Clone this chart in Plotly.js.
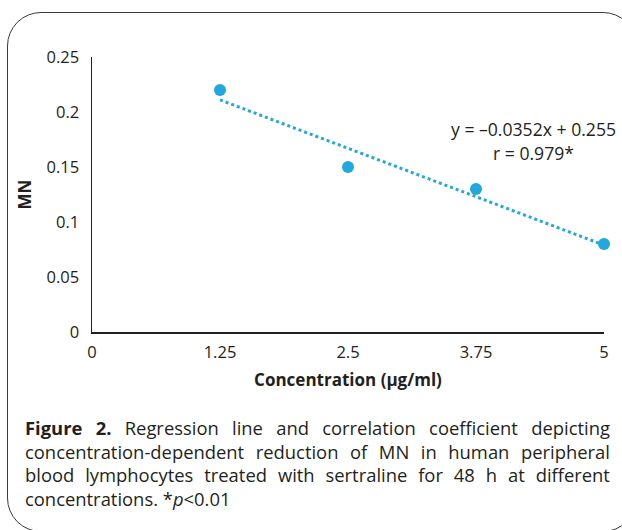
<!DOCTYPE html>
<html>
<head>
<meta charset="utf-8">
<script src="https://cdn.plot.ly/plotly-3.0.1.min.js"></script>
<style>
  html, body { margin: 0; padding: 0; width: 622px; height: 530px; overflow: hidden; background: #fff; }
  #frame { position: absolute; left: 7px; top: 12px; width: 630px; height: 520px;
           border: 1.5px solid #3a3a3a; border-radius: 34px; box-sizing: border-box; }
  #chart { position: absolute; left: 0; top: 0; width: 622px; height: 530px; }
  #caption { position: absolute; left: 25px; top: 416px; width: 585px;
             font-family: "Open Sans", "Noto Sans", sans-serif; font-size: 18.4px; line-height: 23.7px; color: #231f20; }
  #caption .ln { white-space: nowrap; display: flex; justify-content: space-between; }
  #caption .last { text-align: left; white-space: nowrap; }
</style>
</head>
<body>
<div id="frame"></div>
<div id="chart"></div>
<div id="caption">
  <div class="ln"><span><b>Figure</b></span><span><b>2.</b></span><span>Regression</span><span>line</span><span>and</span><span>correlation</span><span>coefficient</span><span>depicting</span></div>
  <div class="ln"><span>concentration-dependent</span><span>reduction</span><span>of</span><span>MN</span><span>in</span><span>human</span><span>peripheral</span></div>
  <div class="ln"><span>blood</span><span>lymphocytes</span><span>treated</span><span>with</span><span>sertraline</span><span>for</span><span>48</span><span>h</span><span>at</span><span>different</span></div>
  <div class="last">concentrations. *<i>p</i>&lt;0.01</div>
</div>
<script>
// Data
const concentrations = [1.25, 2.5, 3.75, 5];
const mnValues = [0.22, 0.15, 0.13, 0.08];
const xTickVals = [0, 1.25, 2.5, 3.75, 5];
const xTickText = ["0", "1.25", "2.5", "3.75", "5"];
const yTickVals = [0, 0.05, 0.1, 0.15, 0.2, 0.25];
const yTickText = ["0", "0.05", "0.1", "0.15", "0.2", "0.25"];
const equationText = "y = \u20130.0352x + 0.255";
const rText = "r = 0.979*";

// Least-squares fit from the data
const n = concentrations.length;
const mx = concentrations.reduce((a, b) => a + b, 0) / n;
const my = mnValues.reduce((a, b) => a + b, 0) / n;
let sxy = 0, sxx = 0;
for (let i = 0; i < n; i++) { sxy += (concentrations[i] - mx) * (mnValues[i] - my); sxx += (concentrations[i] - mx) ** 2; }
const slope = sxy / sxx, intercept = my - slope * mx;
const fitX = [Math.min(...concentrations), Math.max(...concentrations)];
const fitY = fitX.map(x => intercept + slope * x);

const color = "#22a8e1";
const font = "Open Sans, Noto Sans, sans-serif";

const traces = [
  { x: fitX, y: fitY, mode: "lines", line: { color: color, width: 3, dash: "dot" }, hoverinfo: "skip", cliponaxis: false },
  { x: concentrations, y: mnValues, mode: "markers", marker: { color: color, size: 12 }, cliponaxis: false }
];

const layout = {
  width: 622, height: 530,
  margin: { l: 92, r: 18, t: 57, b: 198 },
  paper_bgcolor: "rgba(0,0,0,0)", plot_bgcolor: "rgba(0,0,0,0)",
  showlegend: false,
  font: { family: font, color: "#231f20", size: 16.5 },
  xaxis: {
    range: [0, 5], tickvals: xTickVals, ticktext: xTickText, ticks: "", showgrid: false, zeroline: false,
    showline: true, linecolor: "#231f20", linewidth: 1.5, ticklabelstandoff: 5,
    tickfont: { size: 16.5, family: font },
    title: { text: "<b>Concentration (\u00b5g/ml)</b>", font: { size: 17, family: font }, standoff: 12 }
  },
  yaxis: {
    range: [0, 0.25], tickvals: yTickVals, ticktext: yTickText, ticks: "", showgrid: false, zeroline: false,
    showline: true, linecolor: "#231f20", linewidth: 1.5, ticklabelstandoff: 8,
    tickfont: { size: 16.5, family: font },
    title: { text: "<b>MN</b>", font: { size: 17, family: font }, standoff: 10 }
  },
  annotations: [
    { xref: "paper", yref: "paper", x: 0.862, y: 0.738, text: equationText, showarrow: false,
      font: { size: 17.6, family: font }, xanchor: "center", yanchor: "middle" },
    { xref: "paper", yref: "paper", x: 0.862, y: 0.65, text: rText, showarrow: false,
      font: { size: 17.6, family: font }, xanchor: "center", yanchor: "middle" }
  ]
};

Plotly.newPlot("chart", traces, layout, { displayModeBar: false, staticPlot: true });
</script>
</body>
</html>
